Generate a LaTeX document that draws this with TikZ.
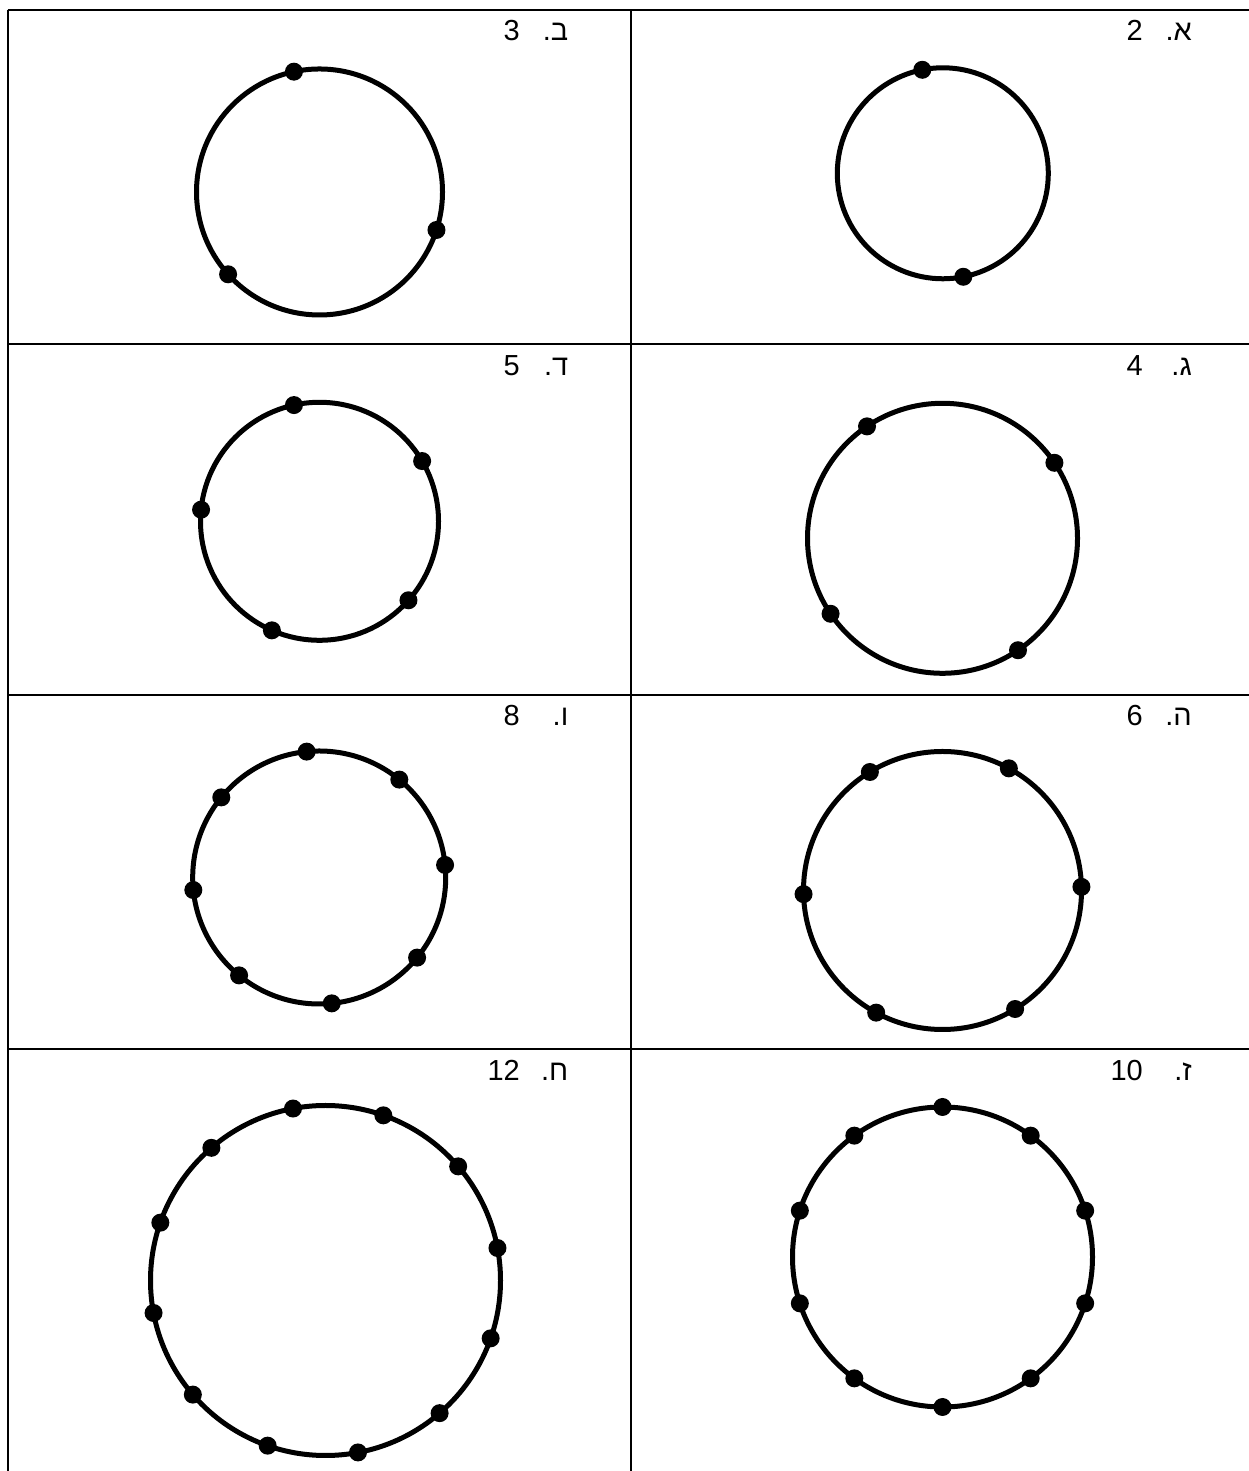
\documentclass[tikz,border=0pt]{standalone}
\usepackage{fontspec}
\setmainfont{Liberation Sans}
\newfontfamily\hebfont[Script=Hebrew]{Liberation Sans}
\TeXXeTstate=1
\newcommand\dotring[6]{% name, cx, cy, r, n, start angle
  \coordinate (#1) at (#2,#3);
  \draw[ringline] (#1) circle[radius=#4];
  \foreach \k in {1,...,#5}{\fill[dotfill] (#1) ++({#6+360*(\k-1)/#5}:#4) circle[radius=9];}
}
\begin{document}
\begin{tikzpicture}[x=1pt,y=1pt,
  ringline/.style={line width=5pt},
  gridline/.style={line width=2pt},
  dotfill/.style={fill=black},
  numlbl/.style={anchor=base east, inner sep=0pt, font=\fontsize{29}{34}\selectfont},
  letlbl/.style={anchor=base east, inner sep=0pt, font=\fontsize{29}{34}\selectfont\hebfont},
]
\useasboundingbox (0,0) rectangle (1249,1471);
\fill[white] (0,0) rectangle (1249,1471);
% table grid
\coordinate (gtl) at (7.5,1461);
\coordinate (gtr) at (1249,1461);
\coordinate (gbl) at (7.5,0);
\coordinate (gtm) at (631,1461);
\coordinate (gbm) at (631,0);
\coordinate (g1l) at (7.5,1126.5);
\coordinate (g1r) at (1249,1126.5);
\coordinate (g2l) at (7.5,776);
\coordinate (g2r) at (1249,776);
\coordinate (g3l) at (7.5,421.5);
\coordinate (g3r) at (1249,421.5);
\draw[gridline] (gtl) -- (gtr);
\draw[gridline] (g1l) -- (g1r);
\draw[gridline] (g2l) -- (g2r);
\draw[gridline] (g3l) -- (g3r);
\draw[gridline] (gtl) -- (gbl);
\draw[gridline] (gtm) -- (gbm);
% circles with points
\dotring{ca}{942.8}{1297.7}{105.5}{2}{101.2}
\dotring{cb}{319.5}{1279}{123}{3}{102}
\dotring{cd}{319.5}{949.7}{119}{5}{30.4}
\dotring{cg}{942.5}{932.7}{135}{4}{34}
\dotring{cv}{319.2}{593.5}{126.5}{8}{5.7}
\dotring{ch}{942.5}{580.5}{139}{6}{1.5}
\dotring{cj}{325.5}{190.5}{175}{12}{10.7}
\dotring{cz}{942.5}{214}{150}{10}{90}
% labels
\node[numlbl] (na) at (1143,1430) {2};
\node[letlbl] (la) at (1192,1430) {\beginR א.\endR};
\node[numlbl] (nb) at (520,1430) {3};
\node[letlbl] (lb) at (568.5,1430) {\beginR ב.\endR};
\node[numlbl] (ng) at (1143,1095.5) {4};
\node[letlbl] (lg) at (1192,1095.5) {\beginR ג.\endR};
\node[numlbl] (nd) at (520,1095.5) {5};
\node[letlbl] (ld) at (568.5,1095.5) {\beginR ד.\endR};
\node[numlbl] (nh) at (1143,745) {6};
\node[letlbl] (lh) at (1192,745) {\beginR ה.\endR};
\node[numlbl] (nv) at (520,745) {8};
\node[letlbl] (lv) at (568.5,745) {\beginR ו.\endR};
\node[numlbl] (nz) at (1143,390.5) {10};
\node[letlbl] (lz) at (1192,390.5) {\beginR ז.\endR};
\node[numlbl] (nj) at (520,390.5) {12};
\node[letlbl] (lj) at (568.5,390.5) {\beginR ח.\endR};
\end{tikzpicture}
\end{document}
